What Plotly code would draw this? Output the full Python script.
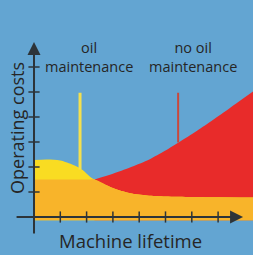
import plotly.graph_objects as go

# ---- data (x: lifetime ticks, y: cost ticks) ----
cost_x = [0, 0.5, 1.0, 1.5, 1.85, 2.13, 2.3, 3.0, 3.65, 4.3, 5.0, 6.0, 7.0, 8.4]
cost_y = [2.28, 2.3, 2.26, 2.08, 1.88, 1.61, 1.5, 1.16, 0.95, 0.86, 0.82, 0.8, 0.79, 0.78]
base_level = 1.5

red_x = [2.3, 3.0, 3.65, 4.3, 4.9, 5.5, 6.2, 6.8, 7.45, 8.4]
red_y = [1.5, 1.73, 1.98, 2.26, 2.6, 2.98, 3.45, 3.88, 4.36, 5.07]

oil_line_x = 1.75
oil_line_y = [1.9, 4.97]
nooil_line_x = 5.48
nooil_line_y = [2.98, 4.97]

x_ticks = [1, 2, 3, 4, 5, 6, 7]
y_ticks = [1, 2, 3, 4, 5, 6]

labels = ["oil<br>maintenance", "no oil<br>maintenance"]
label_x = [2.09, 6.05]
label_y = 6.42
x_title = "Machine lifetime"
y_title = "Operating costs"

BLUE = "#63a5d2"
YELLOW = "#f9dc22"
ORANGE = "#f8b42a"
RED = "#e82b2a"
AX = "#2d3439"
bottom = -0.13

fig = go.Figure()


def area(xs, ys, color):
    fig.add_trace(go.Scatter(x=[xs[0], xs[-1]], y=[bottom, bottom], mode="lines",
                             line=dict(width=0), hoverinfo="skip"))
    fig.add_trace(go.Scatter(x=xs, y=ys, mode="lines", fill="tonexty",
                             fillcolor=color, line=dict(width=0, shape="spline",
                                                        smoothing=0.8),
                             hoverinfo="skip"))


area(red_x, red_y, RED)
area(cost_x, cost_y, YELLOW)
area(cost_x, [min(v, base_level) for v in cost_y], ORANGE)

# vertical indicator lines
fig.add_trace(go.Scatter(x=[oil_line_x] * 2, y=oil_line_y, mode="lines",
                         line=dict(color="#f4e04e", width=3), hoverinfo="skip"))
fig.add_trace(go.Scatter(x=[nooil_line_x] * 2, y=nooil_line_y, mode="lines",
                         line=dict(color="#c9483c", width=2), hoverinfo="skip"))

# ticks
fig.add_trace(go.Scatter(x=x_ticks, y=[0] * len(x_ticks), mode="markers",
                         marker=dict(symbol="line-ns", size=8,
                                     line=dict(color=AX, width=1.5)),
                         hoverinfo="skip"))
fig.add_trace(go.Scatter(x=[0] * len(y_ticks), y=y_ticks, mode="markers",
                         marker=dict(symbol="line-ew", size=8,
                                     line=dict(color=AX, width=1.5)),
                         hoverinfo="skip"))

# axes with arrows
fig.add_annotation(x=7.95, y=0, ax=-0.72, ay=0, xref="x", yref="y",
                   axref="x", ayref="y", showarrow=True, arrowhead=2,
                   arrowsize=1.3, arrowwidth=2, arrowcolor=AX, text="")
fig.add_annotation(x=0, y=7.0, ax=0, ay=-0.72, xref="x", yref="y",
                   axref="x", ayref="y", showarrow=True, arrowhead=2,
                   arrowsize=1.3, arrowwidth=2, arrowcolor=AX, text="")

font_family = "Open Sans"
for t, lx in zip(labels, label_x):
    fig.add_annotation(x=lx, y=label_y, text=t, showarrow=False,
                       font=dict(family=font_family, size=14.5, color="#262626"))
fig.add_annotation(x=3.65, y=-0.92, text=x_title, showarrow=False,
                   font=dict(family=font_family, size=18.5, color="#262626"))
fig.add_annotation(x=-0.65, y=3.56, text=y_title, showarrow=False, textangle=-90,
                   font=dict(family=font_family, size=18, color="#262626"))

fig.update_layout(
    width=253, height=255,
    margin=dict(l=0, r=0, t=0, b=0),
    paper_bgcolor=BLUE, plot_bgcolor=BLUE,
    showlegend=False,
    xaxis=dict(range=[-1.293, 8.327], visible=False, fixedrange=True),
    yaxis=dict(range=[-1.52, 8.68], visible=False, fixedrange=True),
)

fig.write_html("out.html", config={"displayModeBar": False},
               post_script="document.body.style.margin='0';")
